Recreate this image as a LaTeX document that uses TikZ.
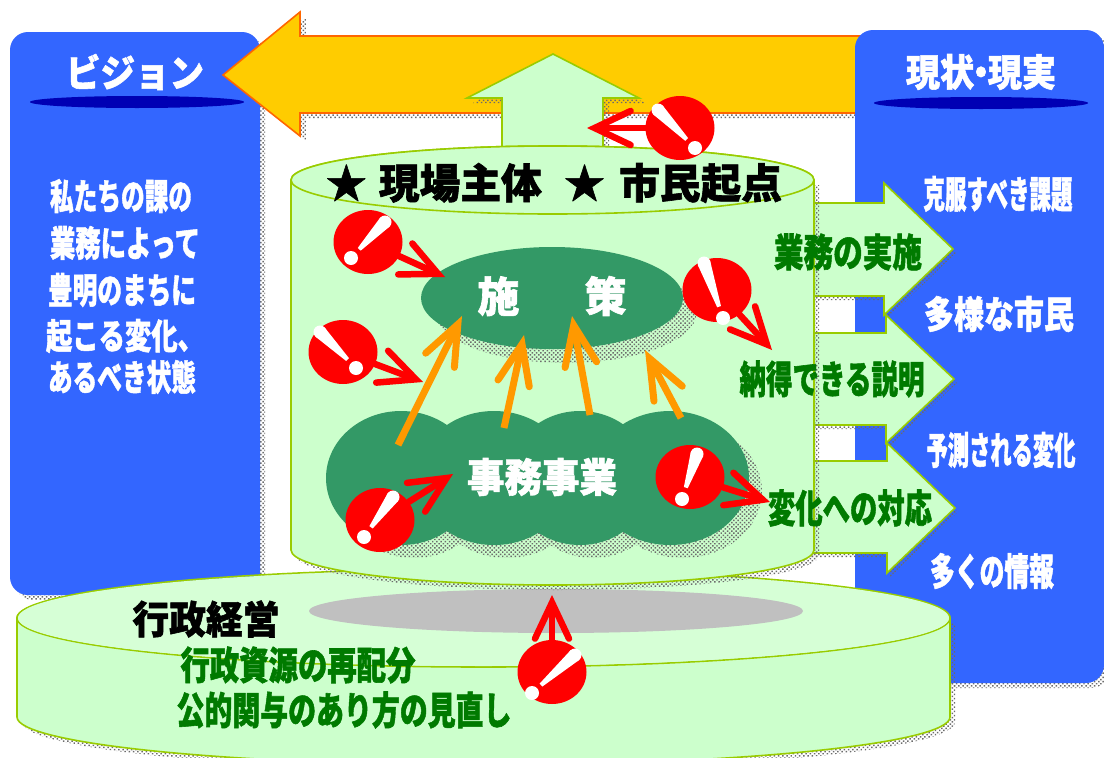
\documentclass[tikz,border=0pt]{standalone}
\usepackage{fontspec}
\setmainfont{Noto Sans CJK JP}[BoldFeatures={FakeBold=1.5}]
\usetikzlibrary{positioning,calc,patterns.meta,arrows.meta,shapes.geometric}
\definecolor{paleGreen}{HTML}{CCFFCC}
\definecolor{limeLine}{HTML}{99CC00}
\definecolor{seaGreen}{HTML}{339966}
\definecolor{labelGreen}{HTML}{007A00}
\definecolor{boxBlue}{HTML}{3366FF}
\definecolor{darkBlue}{HTML}{0000B4}
\definecolor{arrowYellow}{HTML}{FFCC00}
\definecolor{arrowEdge}{HTML}{FF6600}
\definecolor{arrowOrange}{HTML}{FF9900}
\definecolor{plateGrey}{HTML}{C0C0C0}
% text forced to the width and height it has in the picture
\newcommand{\fitted}[3]{\resizebox*{#1pt}{#2pt}{\bfseries #3}}
% white exclamation mark: top end, then dot
\newcommand{\bangmark}[2]{
	\coordinate (bangTop) at (#1);
	\coordinate (bangDot) at (#2);
	\coordinate (bangEnd) at ($(bangDot)!12pt!(bangTop)$);
	\fill[white] ($(bangTop)!6.5pt!90:(bangEnd)$) -- ($(bangTop)!6.5pt!-90:(bangEnd)$) -- ($(bangEnd)!2pt!90:(bangTop)$) -- ($(bangEnd)!2pt!-90:(bangTop)$) -- cycle;
	\fill[white] (bangTop) circle (6.5pt);
	\fill[white] (bangDot) circle (7pt);
}
\begin{document}
\begin{tikzpicture}[x=1pt, y=-1pt]
	\tikzset{
		shade/.style={pattern={Dots[distance=3pt, radius=1.05pt, angle=45]}, pattern color=gray!85!black},
		bluebox/.style={fill=boxBlue, rounded corners=18pt},
		green/.style={fill=paleGreen, draw=limeLine, line width=1.6pt},
		bang/.style={ellipse, fill=red, minimum width=69pt, minimum height=64pt, inner sep=0pt},
		redarrow/.style={draw=red, line width=6.5pt, line cap=round, -{Straight Barb[length=36pt, width=34pt, line cap=round]}},
		orangearrow/.style={draw=arrowOrange, line width=7pt, -{Straight Barb[length=40pt, width=32pt, line cap=round]}},
		whitetext/.style={text=white, inner sep=0pt},
		greentext/.style={text=labelGreen, inner sep=0pt},
		blacktext/.style={text=black, inner sep=0pt}
	}
	\useasboundingbox (0,0) rectangle (1104,758);
	\fill[white] (0,0) rectangle (1104,758);

	% blue boxes
	\fill[shade, rounded corners=18pt] (15,37) rectangle (265,600);
	\fill[shade, rounded corners=18pt] (860,35) rectangle (1109,688);
	\fill[bluebox] (10,32) rectangle (260,595);

	% big yellow arrow
	\fill[shade] (229,80) -- (306,17) -- (306,41) -- (868,41) -- (868,118) -- (306,118) -- (306,141) -- cycle;
	\draw[fill=arrowYellow, draw=arrowEdge, line width=1.6pt] (223,75) -- (300,12) -- (300,36) -- (866,36) -- (866,113) -- (300,113) -- (300,136) -- cycle;
	\fill[bluebox] (855,30) rectangle (1104,683);
	\fill[darkBlue] (137,102) ellipse (107pt and 6pt);
	\fill[darkBlue] (981,103) ellipse (107pt and 6pt);

	% up arrow
	\fill[shade] (508,150) -- (508,103) -- (473,103) -- (559,59) -- (645,103) -- (609,103) -- (609,150) -- cycle;
	\draw[green] (502,150) -- (502,98) -- (467,98) -- (553,54) -- (639,98) -- (603,98) -- (603,150) -- cycle;

	% right arrows
	\foreach \topY/\botY/\headX/\headT/\headB/\tipX/\tipY in {
		203/296/884/183/315/953/249,
		333/425/886/315/443/954/379,
		461/553/887/443/573/955/508}
	{
		\fill[shade] (810,\topY+4) -- (\headX+3,\topY+4) -- (\headX+3,\headT+4) -- (\tipX+3,\tipY+4) -- (\headX+3,\headB+4) -- (\headX+3,\botY+4) -- (810,\botY+4) -- cycle;
		\draw[green] (810,\topY) -- (\headX,\topY) -- (\headX,\headT) -- (\tipX,\tipY) -- (\headX,\headB) -- (\headX,\botY) -- (810,\botY) -- cycle;
	}

	% base plate
	\fill[shade] (22,623) -- (22,722) arc[start angle=180, end angle=360, x radius=466.5pt, y radius=48pt] -- (955,623) -- cycle;
	\draw[green] (17,618) -- (17,717) arc[start angle=180, end angle=360, x radius=466.5pt, y radius=48pt] -- (950,618) arc[start angle=0, end angle=180, x radius=466.5pt, y radius=47pt];
	\draw[limeLine, line width=1.6pt] (483.5,618) ellipse (466.5pt and 49pt);
	\fill[paleGreen!80!white] (483.5,618) ellipse (465.5pt and 48pt);
	\fill[plateGrey] (556,611) ellipse (247pt and 22pt);

	% main drum
	\fill[shade] (296,185) -- (296,555) arc[start angle=180, end angle=360, x radius=261.5pt, y radius=35pt] -- (819,185) -- cycle;
	\draw[green] (291,180) -- (291,550) arc[start angle=180, end angle=360, x radius=261.5pt, y radius=35pt] -- (814,180) arc[start angle=0, end angle=180, x radius=261.5pt, y radius=34pt];
	\draw[green] (552.5,180) ellipse (261.5pt and 34pt);

	% policy ellipse and cloud
	\fill[shade] (566,312) ellipse (131pt and 51pt);
	\foreach \lobeX/\lobeR in {401/75, 494/77, 580/72, 670/79}
		\fill[shade] (\lobeX+13,491) ellipse (\lobeR pt and 67pt);
	\node[ellipse, fill=seaGreen, minimum width=262pt, minimum height=102pt, inner sep=0pt] (policy) at (552,298) {};
	\foreach \lobeX/\lobeR in {401/75, 494/77, 580/72, 670/79}
		\fill[seaGreen] (\lobeX,478) ellipse (\lobeR pt and 67pt);

	% orange arrows
	\coordinate (rootA) at (398,445);
	\coordinate (rootB) at (504,428);
	\coordinate (rootC) at (590,415);
	\coordinate (rootD) at (681,418);
	\coordinate (headA) at (462,316);
	\coordinate (headB) at (524,335);
	\coordinate (headC) at (572,316);
	\coordinate (headD) at (645,350);
	\draw[orangearrow] (rootA) -- (headA);
	\draw[orangearrow] (rootB) -- (headB);
	\draw[orangearrow] (rootC) -- (headC);
	\draw[orangearrow] (rootD) -- (headD);

	% texts
	\node[whitetext] (vision) at (135,72) {\fitted{138}{36}{ビジョン}};
	\node[whitetext] (reality) at (981,72) {\fitted{150}{36}{現状\hspace{-.3em}・\hspace{-.3em}現実}};
	\node[whitetext] (visionA) at (121,196) {\fitted{142}{34}{私たちの課の}};
	\node[whitetext] (visionB) at (125,243) {\fitted{150}{34}{業務によって}};
	\node[whitetext] (visionC) at (122,290) {\fitted{148}{34}{豊明のまちに}};
	\node[whitetext] (visionD) at (125,336) {\fitted{158}{34}{起こる変化、}};
	\node[whitetext] (visionE) at (122,377) {\fitted{148}{34}{あるべき状態}};
	\node[whitetext] (realityA) at (998,194) {\fitted{149}{36}{克服すべき課題}};
	\node[whitetext] (realityB) at (999,314) {\fitted{150}{36}{多様な市民}};
	\node[whitetext] (realityC) at (1001,450) {\fitted{149}{36}{予測される変化}};
	\node[whitetext] (realityD) at (992,571) {\fitted{124}{36}{多くの情報}};
	\node[blacktext] (motto) at (554,183) {\fitted{456}{40}{★\hspace{.3em}現場主体\hspace{.55em}★\hspace{.35em}市民起点}};
	\node[whitetext] (policyText) at (552,296) {\fitted{149}{40}{施\hspace{1.55em}策}};
	\node[whitetext] (project) at (542,477) {\fitted{150}{38}{事務事業}};
	\node[greentext] (taskA) at (848,252) {\fitted{148}{37}{業務の実施}};
	\node[greentext] (taskB) at (832,379) {\fitted{185}{37}{納得できる説明}};
	\node[greentext] (taskC) at (850,508) {\fitted{164}{37}{変化への対応}};
	\node[blacktext] (admin) at (206,619) {\fitted{147}{37}{行政経営}};
	\node[greentext] (adminA) at (298,665) {\fitted{235}{37}{行政資源の再配分}};
	\node[greentext] (adminB) at (344,710) {\fitted{335}{37}{公的関与のあり方の見直し}};

	% exclamation marks with their arrows
	\coordinate (tipA) at (587,128);
	\coordinate (tipB) at (445,277);
	\coordinate (tipC) at (772,350);
	\coordinate (tipD) at (423,382);
	\coordinate (tipE) at (453,474);
	\coordinate (tipF) at (770,502);
	\coordinate (tipG) at (552,595);
	\node[bang] (bangA) at (680,128) {};
	\node[bang] (bangB) at (368,242) {};
	\node[bang] (bangC) at (717,290) {};
	\node[bang] (bangD) at (343,352) {};
	\node[bang] (bangE) at (380,520) {};
	\node[bang] (bangF) at (690,477) {};
	\node[bang] (bangG) at (552,672) {};
	\draw[redarrow] (bangA) -- (tipA);
	\draw[redarrow] (bangB) -- (tipB);
	\draw[redarrow] (bangC) -- (tipC);
	\draw[redarrow] (bangD) -- (tipD);
	\draw[redarrow] (bangE) -- (tipE);
	\draw[redarrow] (bangF) -- (tipF);
	\draw[redarrow] (bangG) -- (tipG);
	\bangmark{658,110}{695,148}
	\bangmark{385,222}{351,258}
	\bangmark{704,263}{723,318}
	\bangmark{320,332}{356,368}
	\bangmark{393,497}{364,537}
	\bangmark{697,454}{682,499}
	\bangmark{575,655}{532,693}
\end{tikzpicture}
\end{document}
